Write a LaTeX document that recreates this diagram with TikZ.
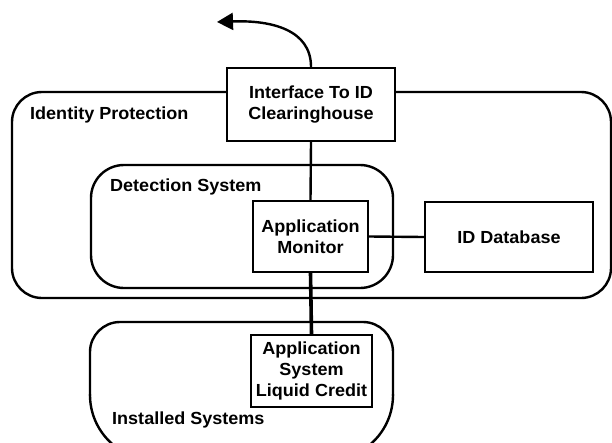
\documentclass[tikz,border=0pt]{standalone}
\usepackage{fontspec}
\setmainfont{Liberation Sans}[FakeStretch=1.03]
\usetikzlibrary{arrows.meta}
\tikzset{
  txt/.style={font=\fontsize{17.5}{21}\selectfont\bfseries, align=center, inner sep=0pt},
  boxn/.style={txt, draw, line width=2.4pt, rectangle},
  region/.style={draw, line width=2.4pt},
  conn/.style={line width=2.4pt},
  thickconn/.style={line width=3.6pt},
  lbl/.style={txt, anchor=west}
}
\begin{document}
\begin{tikzpicture}[x=1pt,y=-1pt]
\useasboundingbox (0,0) rectangle (612,442);
\clip (0,0) rectangle (612,442);
% regions
\draw[region, rounded corners=30] (12,92) rectangle (611,298);
\draw[region, rounded corners=33] (91,165) rectangle (393,288);
\draw[region, rounded corners=30] (90,396) -- (90,322) -- (393,322) -- (393,396);
\draw[region, rounded corners=65] (90,394) -- (90,460) -- (393,460) -- (393,394);
% region labels
\node[lbl] (lip) at (30,115) {Identity Protection};
\node[lbl] (lds) at (110,187) {Detection System};
\node[lbl] (lis) at (112,420) {Installed Systems};
% boxes
\node[boxn, fill=white, minimum width=168pt, minimum height=73pt] (iface) at (311,104.5) {Interface To ID\\Clearinghouse};
\node[boxn, minimum width=115pt, minimum height=71pt] (mon) at (310.5,236.5) {Application\\Monitor};
\node[boxn, minimum width=168pt, minimum height=70pt] (db) at (509,237) {ID Database};
\node[boxn, minimum width=121pt, minimum height=72pt] (app) at (311.5,371) {Application\\System\\Liquid Credit};
% connectors
\coordinate (tip) at (217,22);
\draw[conn] (iface.south) -- (mon.north);
\draw[conn] (mon.east) -- (db.west);
\draw[thickconn] (mon.south) -- (app.north);
\draw[conn, -{Triangle[length=16pt,width=17pt]}] (iface.north) .. controls (311,30) and (272,20) .. (tip);
\end{tikzpicture}
\end{document}
